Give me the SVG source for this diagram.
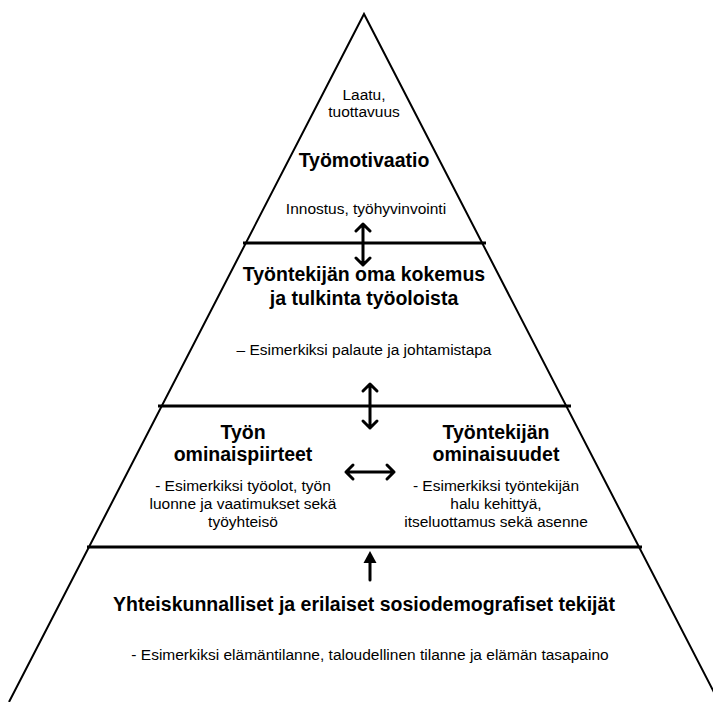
<svg xmlns="http://www.w3.org/2000/svg" width="713" height="702" viewBox="0 0 713 702">
<style>
.side{fill:none;stroke:#000;stroke-width:2}
.div{stroke:#000;stroke-width:3}
.t{font-family:"Liberation Sans",Arial,sans-serif;fill:#000;text-anchor:middle}
.b{font-weight:bold;font-size:19.5px}
.r{font-size:15.5px}
.arr{fill:none;stroke:#000;stroke-width:3;stroke-linecap:round;stroke-linejoin:round}
</style>
<rect width="713" height="702" fill="#fff"/>
<g id="pyramid">
<path class="side" d="M9,702 L364,14 L719,702"/>
<line class="div" x1="243" y1="243" x2="486" y2="243"/>
<line class="div" x1="158" y1="406" x2="571" y2="406"/>
<line class="div" x1="87" y1="547" x2="642" y2="547"/>
</g>
<g id="tyomotivaatio" class="t">
<text class="r" x="364" y="100">Laatu,</text>
<text class="r" x="364" y="117">tuottavuus</text>
<text class="b" x="364" y="167">Työmotivaatio</text>
<text class="r" x="366" y="214">Innostus, työhyvinvointi</text>
</g>
<g id="kokemus" class="t">
<text class="b" x="364" y="281">Työntekijän oma kokemus</text>
<text class="b" x="364" y="305">ja tulkinta työoloista</text>
<text class="r" x="364" y="355">– Esimerkiksi palaute ja johtamistapa</text>
</g>
<g id="tyon-ominaispiirteet" class="t">
<text class="b" x="243" y="439">Työn</text>
<text class="b" x="243" y="461">ominaispiirteet</text>
<text class="r" x="243" y="491">- Esimerkiksi työolot, työn</text>
<text class="r" x="243" y="509">luonne ja vaatimukset sekä</text>
<text class="r" x="243" y="527">työyhteisö</text>
</g>
<g id="tyontekijan-ominaisuudet" class="t">
<text class="b" x="496" y="439">Työntekijän</text>
<text class="b" x="496" y="461">ominaisuudet</text>
<text class="r" x="496" y="491">- Esimerkiksi työntekijän</text>
<text class="r" x="496" y="509">halu kehittyä,</text>
<text class="r" x="496" y="527">itseluottamus sekä asenne</text>
</g>
<g id="yhteiskunnalliset" class="t">
<text class="b" x="364" y="611">Yhteiskunnalliset ja erilaiset sosiodemografiset tekijät</text>
<text class="r" x="370" y="660">- Esimerkiksi elämäntilanne, taloudellinen tilanne ja elämän tasapaino</text>
</g>
<g id="connectors">
<path class="arr" d="M363,224 L363,265 M356,231 L363,224 L370,231 M356,258 L363,265 L370,258"/>
<path class="arr" d="M370,384 L370,428 M363,391 L370,384 L377,391 M363,421 L370,428 L377,421"/>
<path class="arr" d="M346,472 L394,472 M353,465 L346,472 L353,479 M387,465 L394,472 L387,479"/>
<path class="arr" d="M370,580 L370,560"/>
<path d="M370,551 L363.5,563 L376.5,563 Z" fill="#000"/>
</g>
</svg>
